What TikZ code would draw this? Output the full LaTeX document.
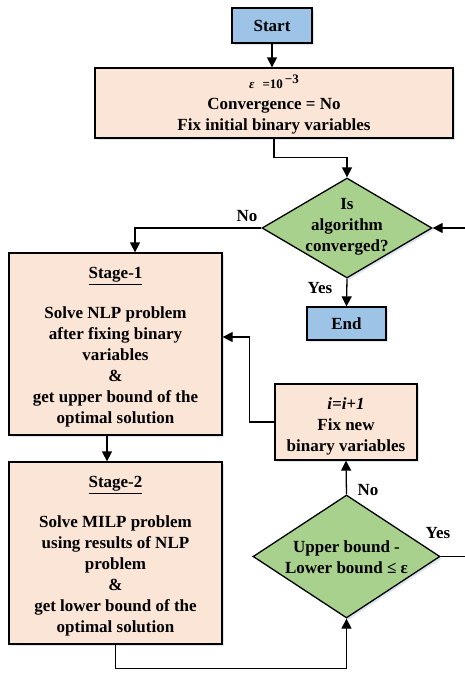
\documentclass[tikz,border=0pt]{standalone}
\usepackage{fontspec}
\setmainfont{Liberation Serif}
\usetikzlibrary{arrows.meta}
\usetikzlibrary{positioning}
\usetikzlibrary{shapes.geometric}
\usetikzlibrary{shadows}
\definecolor{termblue}{HTML}{9DC3E6}
\definecolor{procpeach}{HTML}{FBE5D6}
\definecolor{decgreen}{HTML}{A9D18E}
\definecolor{shadowblue}{HTML}{DDE5F1}
\newcommand{\lines}[2][0pt]{\raisebox{#1}[\height][\depth]{\begin{tabular}{@{}c@{}}#2\end{tabular}}}
\newcommand{\stage}[2]{\lines[-3pt]{\underline{#1}\\[19pt]#2}}
\newcommand{\decision}[2][0pt]{\makebox[0pt]{\smash{\lines[#1]{#2}}}}
\def\InitText{\lines[-2.5pt]{{\fontsize{13}{15}\selectfont\textit{ε}\hspace{8pt}=10\hspace{2pt}\raisebox{5pt}{−3}}\\
Convergence = No\\
Fix initial binary variables}}
\def\StageOne{\stage
{Stage-1}
{Solve NLP problem\\ after fixing binary\\ variables\\ \&\\ get upper bound of the\\ optimal solution}
}
\def\StageTwo{\stage
{Stage-2}
{Solve MILP problem\\ using results of NLP\\ problem\\ \&\\ get lower bound of the\\ optimal solution}
}
\def\UpdateText{\lines[-4pt]{\textit{i=i+1}\\ Fix new\\ binary variables}}

\begin{document}
\begin{tikzpicture}[x=1pt, y=-1pt,
                    every node/.style={font=\fontsize{17}{21}\selectfont\bfseries},
                    boxshadow/.style={drop shadow={shadow xshift=2pt, shadow yshift=-2pt, fill=shadowblue, opacity=1}},
                    term/.style={draw, line width=1.3pt, fill=termblue, inner sep=0pt,
                                 minimum width=80pt, minimum height=35pt, boxshadow},
                    proc/.style={draw, line width=1.3pt, fill=procpeach, inner sep=0pt, boxshadow},
                    dec/.style={draw, diamond, line width=1.3pt, fill=decgreen, inner sep=0pt, boxshadow},
                    arr/.style={line width=1.3pt, -{Triangle[length=10pt, width=10pt]}},
                    lbl/.style={inner sep=0pt}]
    \useasboundingbox (0,0) rectangle (465,673);

    \node[term] (start) at (272,25.5) {Start};
    \node[proc, minimum width=358pt, minimum height=70pt] (init) at (274,103) {\InitText};
    \node[dec, minimum width=170pt, minimum height=100pt] (conv) at (347,228)
        {\decision[-3pt]{Is\\ algorithm\\ converged?}};
    \node[term, minimum width=79pt, minimum height=33pt] (finish) at (346.5,323.5) {End};
    \node[proc, minimum width=213pt, minimum height=182pt] (stage1) at (115.5,344) {\StageOne};
    \node[proc, minimum width=213pt, minimum height=182pt] (stage2) at (115.5,553) {\StageTwo};
    \node[proc, minimum width=142pt, minimum height=76pt] (update) at (346,422) {\UpdateText};
    \node[dec, minimum width=187pt, minimum height=123pt] (check) at (346.5,556.5)
        {\decision[-7pt]{Upper bound -\\ Lower bound ≤ ε}};
    \coordinate (loopback) at (468,556.5);

    \draw[arr] (start.south) -- (start.south |- init.north);
    \draw[arr] (init.south) -- ++(0,19) -| (conv.north);
    \draw[arr] (conv.west) -| ([xshift=19.5pt]stage1.north);
    \draw[arr] (conv.south) -- (finish.north);
    \draw[arr] ([xshift=-8.5pt]stage1.south) -- ([xshift=-8.5pt]stage2.north);
    \draw[arr] (stage2.south) -- ++(0,24) -| (check.south);
    \draw[arr] (check.north) -- (update.south);
    \draw[arr] (update.west) -- ++(-25,0) |- ([yshift=7pt]stage1.east);
    \draw[arr] (check.east) -- (loopback) |- (conv.east);

    \node[lbl] (noconv) at (247,216) {No};
    \node[lbl] (yesconv) at (320,288) {Yes};
    \node[lbl] (nocheck) at (368,490) {No};
    \node[lbl] (yescheck) at (438,533) {Yes};
\end{tikzpicture}
\end{document}
